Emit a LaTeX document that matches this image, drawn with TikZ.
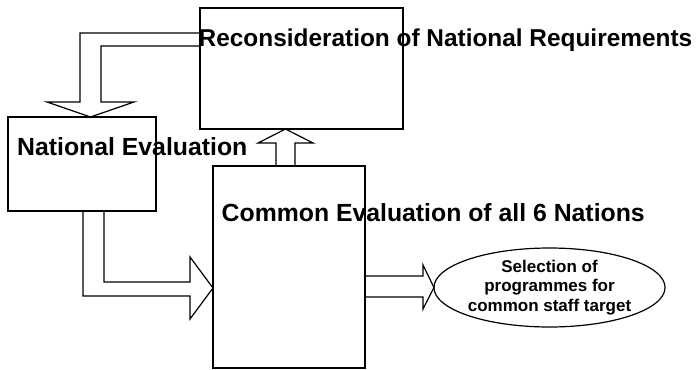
\documentclass[tikz,border=0pt]{standalone}
\usepackage{fontspec}
\setmainfont{Liberation Sans}
\usetikzlibrary{shapes.geometric}
\begin{document}
\begin{tikzpicture}[x=1pt,y=-1pt,
  box/.style={draw=black, line width=1.2pt, rectangle, inner sep=0pt, outer sep=0pt, anchor=north west},
  bigarrow/.style={draw=black, line width=1.2pt, line join=miter},
  heading/.style={inner sep=0pt, anchor=base west, font=\fontsize{24.8}{29}\selectfont\bfseries},
  oval/.style={draw=black, line width=1.2pt, ellipse, inner sep=0pt, outer sep=0pt,
    minimum width=213pt, minimum height=79pt, align=center,
    font=\fontsize{17}{19.5}\selectfont\bfseries}]
\useasboundingbox (0,0) rectangle (700,369);

% stage boxes
\node[box, minimum width=203pt, minimum height=121pt] (recon) at (200,8) {};
\node[box, minimum width=148pt, minimum height=94pt] (natl) at (8,117) {};
\node[box, minimum width=152pt, minimum height=202pt] (common) at (213,166) {};
\node[oval] (oval) at (549.5,287.5) {Selection of\\programmes for\\common staff target};

% stage titles
\node[heading, font=\fontsize{24.4}{29}\selectfont\bfseries] (recontext) at (198.5,47) {Reconsideration of National Requirements};
\node[heading] (natltext) at (17,155) {National Evaluation};
\node[heading] (commontext) at (221.5,221) {Common Evaluation of all 6 Nations};

% reconsideration feeds back into national evaluation
\draw[bigarrow] (recon.west |- 0,33) -- (80,33) -- (80,102) -- (47,102)
  -- (natl.north -| 90.5,0) -- (134,102) -- (101,102) -- (101,46) -- (recon.west |- 0,46);

% common evaluation up to reconsideration
\draw[bigarrow] (common.north -| 276,0) -- (276,143) -- (258,143)
  -- (recon.south -| 285.5,0) -- (313,143) -- (295,143) -- (common.north -| 295,0);

% national evaluation into common evaluation
\draw[bigarrow] (natl.south -| 83,0) -- (83,296) -- (190,296) -- (190,319)
  -- (common.west |- 0,288) -- (190,257) -- (190,282) -- (104,282) -- (natl.south -| 104,0);

% common evaluation out to the selection
\draw[bigarrow] (common.east |- 0,276) -- (423,276) -- (423,265)
  -- (oval.west) -- (423,309) -- (423,297) -- (common.east |- 0,297);
\end{tikzpicture}
\end{document}
